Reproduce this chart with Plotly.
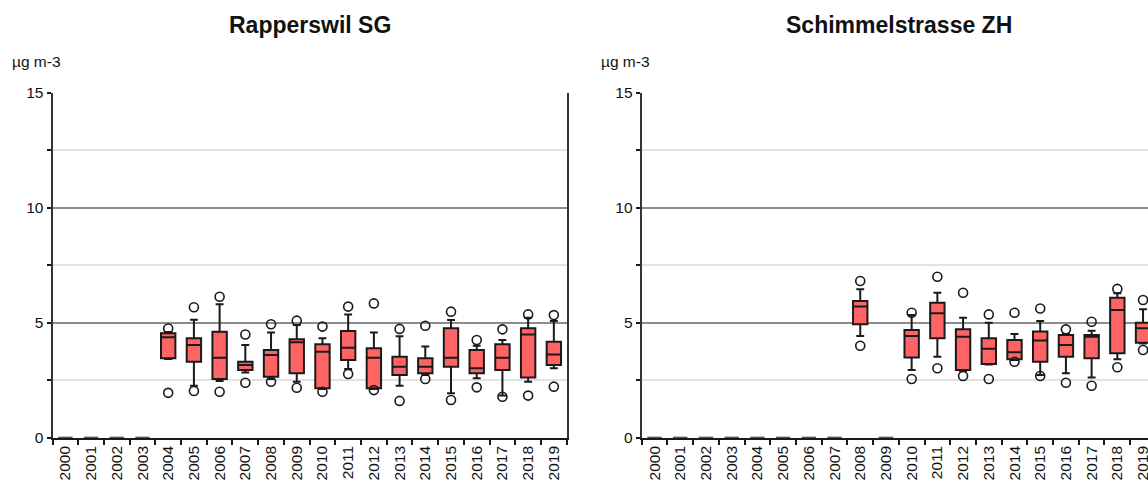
import plotly.graph_objects as go

YEARS = ["2000", "2001", "2002", "2003", "2004", "2005", "2006", "2007", "2008", "2009",
         "2010", "2011", "2012", "2013", "2014", "2015", "2016", "2017", "2018", "2019"]

# Rapperswil SG (µg m-3); years without measurements are drawn as zero boxes
RAP_MIN = [None, None, None, None, 1.95, 2.03, 2.00, 2.39, 2.43, 2.17,
           2.00, 2.77, 2.07, 1.60, 2.55, 1.64, 2.19, 1.78, 1.83, 2.22]
RAP_LOW = [0, 0, 0, 0, 3.42, 2.26, 2.46, 2.83, 2.55, 2.43,
           2.12, 2.99, 2.12, 2.26, 2.73, 1.93, 2.58, 1.83, 2.43, 3.02]
RAP_Q1 = [0, 0, 0, 0, 3.45, 3.30, 2.55, 2.94, 2.65, 2.80,
          2.15, 3.38, 2.15, 2.73, 2.80, 3.09, 2.80, 2.94, 2.62, 3.16]
RAP_MED = [0, 0, 0, 0, 4.37, 4.03, 3.48, 3.16, 3.60, 4.15,
           3.74, 3.91, 3.48, 3.09, 3.09, 3.48, 3.02, 3.48, 4.49, 3.62]
RAP_Q3 = [0, 0, 0, 0, 4.54, 4.32, 4.61, 3.30, 3.81, 4.28,
          4.06, 4.64, 3.89, 3.52, 3.45, 4.76, 3.81, 4.06, 4.76, 4.17]
RAP_HIGH = [0, 0, 0, 0, 4.60, 5.13, 5.80, 4.03, 4.57, 4.90,
            4.32, 5.36, 4.57, 4.41, 3.96, 5.12, 4.00, 4.25, 5.22, 5.07]
RAP_MAX = [None, None, None, None, 4.75, 5.67, 6.13, 4.49, 4.93, 5.09,
           4.83, 5.70, 5.84, 4.73, 4.87, 5.48, 4.25, 4.71, 5.36, 5.33]

# Schimmelstrasse ZH (µg m-3)
SCH_MIN = [None, None, None, None, None, None, None, None, 4.00, None,
           2.55, 3.02, 2.68, 2.55, 3.30, 2.68, 2.39, 2.26, 3.06, 3.81]
SCH_LOW = [0, 0, 0, 0, 0, 0, 0, 0, 4.42, 0,
           2.94, 3.52, 2.90, 3.18, 3.38, 2.73, 2.80, 2.62, 3.41, 4.10]
SCH_Q1 = [0, 0, 0, 0, 0, 0, 0, 0, 4.93, 0,
          3.49, 4.32, 2.94, 3.20, 3.41, 3.30, 3.52, 3.45, 3.67, 4.13]
SCH_MED = [0, 0, 0, 0, 0, 0, 0, 0, 5.70, 0,
           4.42, 5.41, 4.39, 3.87, 3.71, 4.23, 4.03, 4.39, 5.55, 4.76]
SCH_Q3 = [0, 0, 0, 0, 0, 0, 0, 0, 5.94, 0,
          4.68, 5.87, 4.71, 4.32, 4.25, 4.62, 4.47, 4.47, 6.09, 5.00]
SCH_HIGH = [0, 0, 0, 0, 0, 0, 0, 0, 6.45, 0,
            5.33, 6.30, 5.22, 5.00, 4.51, 5.07, 4.51, 4.65, 6.28, 5.58]
SCH_MAX = [None, None, None, None, None, None, None, None, 6.81, None,
           5.43, 7.00, 6.30, 5.36, 5.43, 5.62, 4.71, 5.04, 6.47, 5.99]

FONT = "Liberation Sans, Arial, sans-serif"
BOX_FILL = "#ff6464"
INK = "#1a1a1a"

W, H = 1148, 483


def px_x(p):
    return p / W


def px_y(p):
    return 1 - p / H


fig = go.Figure()

panels = [
    ("x", "y", RAP_LOW, RAP_Q1, RAP_MED, RAP_Q3, RAP_HIGH, RAP_MIN, RAP_MAX),
    ("x2", "y2", SCH_LOW, SCH_Q1, SCH_MED, SCH_Q3, SCH_HIGH, SCH_MIN, SCH_MAX),
]

for xa, ya, low, q1, med, q3, high, mn, mx in panels:
    fig.add_trace(go.Box(
        x=YEARS, q1=q1, median=med, q3=q3, lowerfence=low, upperfence=high,
        boxpoints=False, fillcolor=BOX_FILL, line=dict(color=INK, width=2),
        whiskerwidth=0.55, width=0.56, xaxis=xa, yaxis=ya,
        showlegend=False, hoverinfo="skip",
    ))
    fig.add_trace(go.Scatter(
        x=YEARS + YEARS, y=mx + mn, mode="markers",
        marker=dict(symbol="circle-open", size=9, color=INK, line=dict(width=1.6, color=INK)),
        xaxis=xa, yaxis=ya, showlegend=False, hoverinfo="skip",
    ))

# plot-area edges in pixels
L1, R1 = 52.5, 566.7
L2 = 641.7
TOP, BOT = 92.7, 437.7
CAT_PX = (R1 - L1) / 20

xcommon = dict(
    type="category", tickson="boundaries", ticks="outside", ticklen=5, tickwidth=1.5,
    tickcolor=INK, tickangle=-90, showgrid=False, showline=True, linecolor=INK,
    linewidth=2, tickfont=dict(family=FONT, size=15.5, color="#111"), automargin=False,
    zeroline=False, fixedrange=True,
)
ycommon = dict(
    range=[0, 15], tickvals=[0, 5, 10, 15], ticks="outside", ticklen=4, tickwidth=1.5,
    tickcolor=INK, showline=True, linecolor="#333", linewidth=2,
    showgrid=True, gridcolor="#8c8c8c", gridwidth=1.5, zeroline=False,
    tickfont=dict(family=FONT, size=15.5, color="#111"), automargin=False,
    minor=dict(dtick=2.5, tick0=0, ticks="outside", ticklen=4, tickwidth=1.5,
               tickcolor=INK, showgrid=True, gridcolor="#e2e2e2", gridwidth=1.5),
    fixedrange=True,
)

right_span = (W - L2) / CAT_PX

fig.update_layout(
    width=W, height=H, margin=dict(l=0, r=0, t=0, b=0),
    paper_bgcolor="white", plot_bgcolor="white", template="none",
    xaxis=dict(xcommon, domain=[px_x(L1), px_x(R1)], anchor="y", range=[-0.5, 19.5]),
    yaxis=dict(ycommon, domain=[px_y(BOT), px_y(TOP)], anchor="x", mirror=True),
    xaxis2=dict(xcommon, domain=[px_x(L2), 1.0], anchor="y2", range=[-0.5, -0.5 + right_span]),
    yaxis2=dict(ycommon, domain=[px_y(BOT), px_y(TOP)], anchor="x2"),
)

titles = [("Rapperswil SG", (L1 + R1) / 2), ("Schimmelstrasse ZH", L2 + 10 * CAT_PX)]
for text, cx in titles:
    fig.add_annotation(text=f"<b>{text}</b>", x=px_x(cx), y=px_y(25), xref="paper", yref="paper",
                       xanchor="center", yanchor="middle", showarrow=False,
                       font=dict(family=FONT, size=23, color="#111"))

for lx in (10, 599):
    fig.add_annotation(text="µg m-3", x=px_x(lx), y=px_y(62), xref="paper", yref="paper",
                       xanchor="left", yanchor="middle", showarrow=False,
                       font=dict(family=FONT, size=15.5, color="#111"))

fig.write_html("out.html", config={"displayModeBar": False})
